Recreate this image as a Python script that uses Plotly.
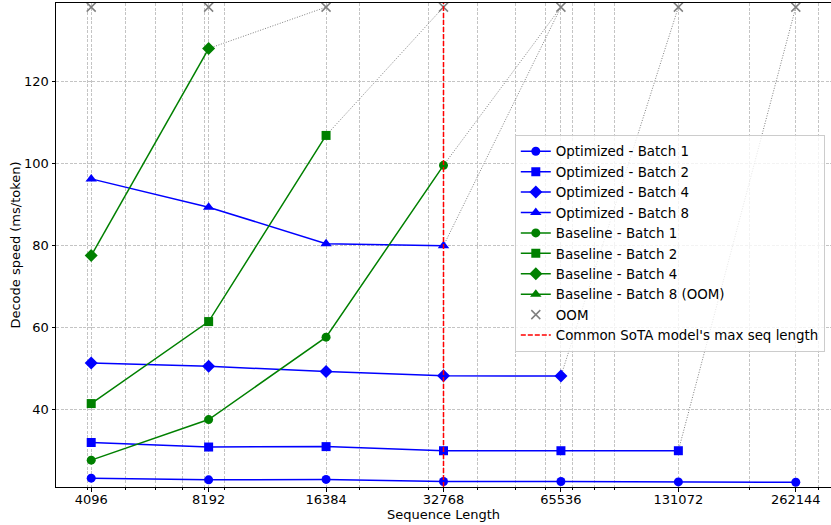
import plotly.graph_objects as go

# ---------------- data ----------------
seq_lens = [4096, 8192, 16384, 32768, 65536, 131072, 262144]
tick_labels = ["4096", "8192", "16384", "32768", "65536", "131072", "262144"]

opt_b1 = [23.3, 22.9, 23.0, 22.5, 22.5, 22.4, 22.3]
opt_b2 = [32.0, 30.9, 31.0, 30.0, 30.0, 30.0, None]
opt_b4 = [51.4, 50.6, 49.3, 48.3, 48.2, None, None]
opt_b8 = [96.3, 89.4, 80.5, 80.0, None, None, None]
base_b1 = [27.7, 37.6, 57.7, 99.6, None, None, None]
base_b2 = [41.5, 61.5, 106.9, None, None, None, None]
base_b4 = [77.6, 128.1, None, None, None, None, None]
base_b8 = [None, None, None, None, None, None, None]

oom_x = [4096, 8192, 16384, 32768, 65536, 131072, 262144]
oom_y = 138.2
sota_max_len = 32768

y_range = [21.15, 139.2]
y_ticks = [40, 60, 80, 100, 120]

# ---------------- styling ----------------
BLUE = "#0000ff"
GREEN = "#008000"
GRAY = "#808080"
FONT = "DejaVu Sans"

series = [
    ("Optimized - Batch 1", opt_b1, BLUE, "circle", 9),
    ("Optimized - Batch 2", opt_b2, BLUE, "square", 9),
    ("Optimized - Batch 4", opt_b4, BLUE, "diamond", 10),
    ("Optimized - Batch 8", opt_b8, BLUE, "triangle-up", 10),
    ("Baseline - Batch 1", base_b1, GREEN, "circle", 9),
    ("Baseline - Batch 2", base_b2, GREEN, "square", 9),
    ("Baseline - Batch 4", base_b4, GREEN, "diamond", 10),
    ("Baseline - Batch 8 (OOM)", base_b8, GREEN, "triangle-up", 10),
]

fig = go.Figure()

# dotted connectors from last valid point to the OOM marker
for name, vals, color, sym, size in series:
    valid = [i for i, v in enumerate(vals) if v is not None]
    if valid and valid[-1] < len(seq_lens) - 1:
        i = valid[-1]
        fig.add_trace(go.Scatter(
            x=[seq_lens[i], seq_lens[i + 1]], y=[vals[i], oom_y],
            mode="lines", line=dict(color=GRAY, width=1, dash="1px,1.6px"),
            showlegend=False, hoverinfo="skip"))

for name, vals, color, sym, size in series:
    fig.add_trace(go.Scatter(
        x=seq_lens, y=vals, name=name, mode="lines+markers",
        connectgaps=False, showlegend=True,
        line=dict(color=color, width=1.5),
        marker=dict(symbol=sym, size=size, color=color,
                    line=dict(color=color, width=0))))

fig.add_trace(go.Scatter(
    x=oom_x, y=[oom_y] * len(oom_x), name="OOM", mode="markers",
    marker=dict(symbol="x-thin", size=9, color=GRAY,
                line=dict(color=GRAY, width=1.5))))

fig.add_shape(type="line", x0=sota_max_len, x1=sota_max_len, xref="x",
              y0=0, y1=1, yref="y domain",
              line=dict(color="#ff0000", width=1.5, dash="5px,2px"),
              showlegend=True, name="Common SoTA model's max seq length",
              legendrank=2000)

minor_vals = [d * 10 ** e for e in (3, 4, 5) for d in range(2, 10)
              if 3400 <= d * 10 ** e <= 322000]

GRID = "#c4c4c4"
fig.update_xaxes(
    type="log",
    range=[3.5221, 5.5088],
    tickvals=seq_lens, ticktext=tick_labels,
    ticks="outside", ticklen=3.5, tickwidth=1, tickcolor="black",
    ticklabelstandoff=-3,
    showline=True, linecolor="black", linewidth=1, mirror=True,
    showgrid=True, gridcolor=GRID, gridwidth=1, griddash="3px,1.5px",
    minor=dict(tickvals=minor_vals, ticks="outside", ticklen=2,
               tickcolor="black", showgrid=True, gridcolor=GRID,
               gridwidth=1, griddash="3px,1.5px"),
    title=dict(text="Sequence Length", standoff=2,
               font=dict(family=FONT, size=13, color="black")),
    tickfont=dict(family=FONT, size=13, color="black"),
    zeroline=False,
)
fig.update_yaxes(
    range=y_range, tickvals=y_ticks,
    ticks="outside", ticklen=3.5, tickwidth=1, tickcolor="black",
    showline=True, linecolor="black", linewidth=1, mirror=True,
    showgrid=True, gridcolor=GRID, gridwidth=1, griddash="3px,1.5px",
    title=dict(text="Decode speed (ms/token)", standoff=0,
               font=dict(family=FONT, size=13, color="black")),
    tickfont=dict(family=FONT, size=13, color="black"),
    zeroline=False,
)

fig.update_layout(
    width=831, height=525,
    margin=dict(l=56, r=0, t=3, b=38, autoexpand=False),
    plot_bgcolor="white", paper_bgcolor="white",
    font=dict(family=FONT, size=13, color="black"),
    legend=dict(x=0.992, xanchor="right", y=0.503, yanchor="middle",
                bgcolor="rgba(255,255,255,0.8)", bordercolor="#cccccc",
                borderwidth=1, font=dict(family=FONT, size=13.4, color="black"),
                tracegroupgap=0),
    showlegend=True,
)

fig.write_html("out.html",
               config={"displayModeBar": False},
               post_script="document.body.style.margin='0';"
                           "document.body.style.overflow='hidden';")
